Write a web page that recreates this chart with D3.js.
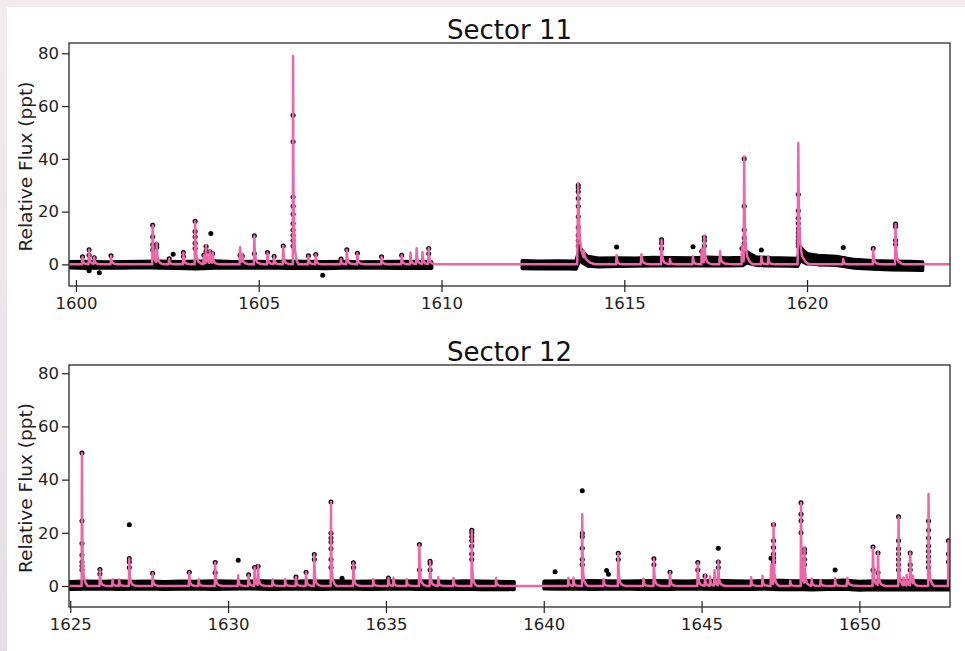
<!DOCTYPE html>
<html>
<head>
<meta charset="utf-8">
<script src="https://cdn.jsdelivr.net/npm/d3@7/dist/d3.min.js"></script>
<style>
  html, body { margin: 0; padding: 0; background: #ffffff; }
  svg { display: block; font-family: "DejaVu Sans", sans-serif; }
</style>
</head>
<body>
<svg id="fig" width="965" height="651"></svg>
<script>
// ---------- data ----------
const sectorTitles = ["Sector 11", "Sector 12"];
const xTicks11 = [1600, 1605, 1610, 1615, 1620];
const xTicks12 = [1625, 1630, 1635, 1640, 1645, 1650];
const yTicks = [0, 20, 40, 60, 80];
const xRange11 = [1599.81, 1623.91];
const xRange12 = [1624.96, 1652.87];
const yRange11 = [-8.2, 83.9];
const yRange12 = [-7.9, 83.1];

// quiescent light-curve envelope per orbit: [time, low, high] (ppt)
const band11 = [
  [[1599.84,-1.3,1.0],[1600.3,-1.5,1.1],[1600.8,-1.3,0.9],[1601.3,-1.4,1.0],[1601.8,-1.2,1.1],[1602.3,-1.4,1.2],[1602.8,-1.5,1.0],[1603.3,-1.7,1.2],[1603.8,-1.4,1.3],[1604.3,-1.3,1.0],[1604.8,-1.4,1.1],[1605.3,-1.3,1.0],[1605.8,-1.5,1.2],[1606.3,-1.4,1.1],[1606.8,-1.6,1.0],[1607.3,-1.4,1.1],[1607.8,-1.3,0.9],[1608.3,-1.4,1.0],[1608.8,-1.5,1.1],[1609.3,-1.4,1.0],[1609.73,-1.5,0.9]],
  [[1612.21,-1.6,1.4],[1612.7,-1.7,1.2],[1613.2,-1.6,1.3],[1613.68,-1.8,1.2],[1613.78,1.5,6.5],[1613.88,0.4,4.5],[1614.0,-0.6,3.0],[1614.3,-0.9,2.3],[1614.8,-0.7,2.4],[1615.3,-0.6,2.3],[1615.8,-0.5,2.6],[1616.3,-0.4,2.5],[1616.8,-0.5,2.4],[1617.3,-0.4,2.7],[1617.8,-0.5,2.4],[1618.25,-0.4,2.6],[1618.35,0.6,4.8],[1618.6,-0.3,2.8],[1619.0,-0.5,2.5],[1619.5,-0.6,2.3],[1619.74,-0.7,2.2],[1619.82,1.5,6.5],[1620.0,0.2,4.0],[1620.3,-0.1,3.4],[1620.8,-0.3,3.0],[1621.3,-1.4,1.8],[1621.8,-1.8,1.4],[1622.3,-2.0,1.2],[1622.8,-2.1,1.1],[1623.16,-2.2,0.9]]
];
const band12 = [
  [[1625.0,-1.2,1.6],[1625.5,-1.1,1.8],[1626.0,-1.0,1.7],[1626.5,-1.2,1.9],[1627.0,-1.1,1.7],[1627.5,-1.0,1.8],[1628.0,-1.2,1.6],[1628.5,-1.1,1.8],[1629.0,-1.0,1.7],[1629.5,-1.2,1.9],[1630.0,-1.1,1.8],[1630.5,-1.0,1.7],[1631.0,-1.1,1.9],[1631.5,-1.2,1.8],[1632.0,-1.0,1.7],[1632.5,-1.1,1.9],[1633.0,-1.2,1.8],[1633.5,-1.0,1.9],[1634.0,-1.1,1.7],[1634.5,-1.2,1.8],[1635.0,-1.1,1.9],[1635.5,-1.0,1.8],[1636.0,-1.2,1.9],[1636.5,-1.1,1.8],[1637.0,-1.2,1.7],[1637.5,-1.1,1.9],[1638.0,-1.3,1.8],[1638.5,-1.2,1.7],[1639.06,-1.3,1.6]],
  [[1640.01,-1.0,1.8],[1640.5,-1.1,1.9],[1641.0,-1.0,1.8],[1641.5,-1.2,2.0],[1642.0,-1.1,1.9],[1642.5,-1.0,1.8],[1643.0,-1.2,1.9],[1643.5,-1.1,2.0],[1644.0,-1.2,1.9],[1644.5,-1.0,1.8],[1645.0,-1.1,2.0],[1645.5,-1.2,2.1],[1646.0,-1.1,1.9],[1646.5,-1.2,1.8],[1647.0,-1.1,2.0],[1647.5,-1.3,2.1],[1648.0,-1.2,1.9],[1648.5,-1.4,2.0],[1649.0,-1.2,1.9],[1649.5,-1.1,2.2],[1650.0,-1.5,1.7],[1650.5,-1.3,1.9],[1651.0,-1.4,1.8],[1651.5,-1.3,2.0],[1652.0,-1.4,1.9],[1652.5,-1.3,1.8],[1652.87,-1.4,1.8]]
];

// flares: [peak time, model amplitude (ppt), decay time (d), observed points on the flare (ppt)]
const flares11 = [
  [1600.18, 2.9, 0.02, [2.9]],
  [1600.36, 5.5, 0.02, [5.5, 3.5]],
  [1600.50, 2.5, 0.02, [2.5]],
  [1600.96, 3.3, 0.02, [3.3]],
  [1602.10, 14.8, 0.02, [14.8, 10.5, 7.5, 5.5]],
  [1602.21, 7.5, 0.02, [7.5, 6.5]],
  [1602.55, 2.1, 0.02, [2.1]],
  [1602.94, 4.5, 0.02, [4.5, 3.0]],
  [1603.26, 16.3, 0.02, [16.3, 12.5, 10.5, 8.0, 6.0]],
  [1603.50, 3.5, 0.02, [3.5]],
  [1603.56, 6.8, 0.02, [6.8, 5.0]],
  [1603.66, 4.8, 0.02, [4.8]],
  [1603.74, 4.0, 0.02, [4.0]],
  [1604.49, 6.5, 0.02, [3.5]],
  [1604.55, 3.2, 0.02, [3.2]],
  [1604.88, 10.8, 0.02, [10.8, 4.0]],
  [1605.24, 4.5, 0.02, [4.5]],
  [1605.42, 3.0, 0.02, [3.0]],
  [1605.67, 7.0, 0.02, [7.0]],
  [1605.94, 79.0, 0.012, [56.5, 46.5, 25.5, 22.0, 19.0, 15.5, 13.0, 11.0, 9.0, 7.0]],
  [1606.36, 3.3, 0.02, [3.3]],
  [1606.56, 3.7, 0.02, [3.7]],
  [1607.25, 2.0, 0.02, [2.0]],
  [1607.41, 5.5, 0.02, [5.5]],
  [1607.70, 4.2, 0.02, [4.2]],
  [1608.36, 2.9, 0.02, [2.9]],
  [1608.91, 3.5, 0.02, [3.5]],
  [1609.15, 4.5, 0.02, []],
  [1609.32, 6.0, 0.02, []],
  [1609.48, 4.5, 0.02, []],
  [1609.65, 6.0, 0.02, [6.0, 4.0]],
  [1613.74, 30.8, 0.04, [30.0, 29.0, 27.5, 25.0, 22.0, 18.0, 14.0, 11.0, 9.0, 7.0]],
  [1613.90, 3.0, 0.02, []],
  [1614.79, 3.5, 0.02, []],
  [1615.47, 3.8, 0.03, []],
  [1616.02, 9.3, 0.02, [9.3, 8.0, 6.0]],
  [1616.25, 2.0, 0.02, []],
  [1616.88, 3.0, 0.02, []],
  [1617.12, 6.0, 0.02, [5.0]],
  [1617.19, 10.3, 0.02, [10.3, 9.0, 7.0]],
  [1617.62, 5.0, 0.03, []],
  [1618.22, 7.0, 0.02, [6.0]],
  [1618.28, 40.0, 0.02, [40.0, 22.0, 13.0, 10.0, 8.0]],
  [1618.75, 3.0, 0.02, []],
  [1618.94, 3.0, 0.02, []],
  [1619.76, 46.0, 0.025, [26.5, 20.3, 17.5, 15.5, 13.5, 12.0, 10.5, 9.0, 8.0, 7.0]],
  [1620.99, 2.0, 0.02, []],
  [1621.81, 6.0, 0.02, [6.0]],
  [1622.42, 15.3, 0.02, [15.3, 14.3, 9.0, 7.5]]
];
const flares12 = [
  [1625.37, 50.0, 0.015, [50.0, 24.4, 16.0, 11.7, 9.0, 7.5, 6.0]],
  [1625.94, 6.2, 0.02, [6.2, 4.5]],
  [1626.34, 2.5, 0.02, []],
  [1626.55, 2.5, 0.02, []],
  [1626.87, 10.3, 0.02, [10.3, 9.0, 7.0]],
  [1627.61, 4.8, 0.02, [4.8]],
  [1628.77, 5.2, 0.02, [5.2]],
  [1629.07, 2.5, 0.02, []],
  [1629.59, 8.8, 0.02, [8.8, 5.0]],
  [1630.32, 4.0, 0.02, []],
  [1630.65, 4.2, 0.02, [4.2]],
  [1630.84, 7.0, 0.02, [7.0]],
  [1630.95, 7.4, 0.02, [7.4]],
  [1631.41, 2.5, 0.02, []],
  [1631.81, 2.5, 0.02, []],
  [1632.15, 3.4, 0.02, [3.4]],
  [1632.47, 5.2, 0.02, [5.2]],
  [1632.73, 11.8, 0.02, [11.8, 10.0]],
  [1633.26, 31.6, 0.015, [31.6, 19.8, 18.0, 16.5, 14.0, 10.0, 7.0]],
  [1633.97, 8.7, 0.02, [8.7, 7.0]],
  [1634.60, 2.5, 0.02, []],
  [1635.08, 3.0, 0.02, [3.0]],
  [1635.24, 3.0, 0.02, []],
  [1635.66, 2.5, 0.02, []],
  [1636.06, 15.6, 0.02, [15.6, 6.0]],
  [1636.40, 9.3, 0.02, [9.3, 8.5, 6.0]],
  [1636.66, 3.3, 0.02, []],
  [1637.14, 3.0, 0.02, []],
  [1637.72, 21.0, 0.015, [21.0, 20.0, 18.5, 17.0, 15.0, 12.0, 10.0]],
  [1638.49, 3.0, 0.02, []],
  [1640.78, 3.0, 0.02, []],
  [1640.94, 3.0, 0.02, []],
  [1641.22, 27.0, 0.015, [19.8, 18.5, 14.2, 10.0, 8.0]],
  [1641.90, 2.5, 0.02, []],
  [1642.36, 12.3, 0.02, [12.3, 10.0]],
  [1643.16, 2.8, 0.02, []],
  [1643.49, 10.2, 0.02, [10.2, 8.0]],
  [1644.00, 5.2, 0.02, [5.2]],
  [1644.88, 8.8, 0.02, [8.8, 6.0]],
  [1645.11, 4.0, 0.02, []],
  [1645.27, 3.5, 0.02, []],
  [1645.41, 5.8, 0.02, []],
  [1645.53, 9.0, 0.02, [9.0, 7.0]],
  [1646.57, 3.3, 0.02, []],
  [1646.93, 3.8, 0.02, []],
  [1647.20, 8.0, 0.02, []],
  [1647.28, 23.0, 0.015, [23.0, 17.0, 14.5, 12.0, 10.5, 9.0]],
  [1647.81, 2.0, 0.02, []],
  [1648.15, 31.3, 0.015, [31.3, 27.0, 24.5, 20.0]],
  [1648.26, 13.8, 0.02, [13.8, 12.5, 10.0, 8.0]],
  [1648.49, 2.8, 0.02, []],
  [1648.77, 2.2, 0.02, []],
  [1649.23, 3.0, 0.02, []],
  [1649.62, 3.0, 0.04, []],
  [1650.43, 14.7, 0.02, [14.7, 6.0]],
  [1650.59, 12.4, 0.02, [12.4, 5.0]],
  [1651.24, 26.0, 0.015, [26.0, 17.0, 14.0, 12.0, 10.0, 8.0, 6.0]],
  [1651.40, 3.0, 0.02, []],
  [1651.50, 4.0, 0.02, []],
  [1651.61, 12.4, 0.02, [12.4, 8.0, 6.0]],
  [1651.70, 3.0, 0.02, []],
  [1652.19, 34.6, 0.015, [24.4, 21.0, 18.0, 15.0, 13.0, 11.0, 9.0, 7.0]],
  [1652.82, 17.0, 0.02, [17.0, 12.0, 9.0]]
];

// isolated points standing off the quiescent level: [time, flux]
const outliers11 = [[1600.36,-2.4],[1600.64,-3.2],[1602.66,3.8],[1603.69,11.7],[1606.75,-4.1],[1614.79,6.6],[1616.88,6.7],[1618.75,5.4],[1620.99,6.4]];
const outliers12 = [[1626.87,23.0],[1630.32,9.7],[1633.61,2.9],[1640.36,5.4],[1641.22,35.8],[1641.99,5.8],[1642.05,4.4],[1645.11,3.8],[1645.53,14.2],[1647.20,10.4],[1649.23,6.0]];

// flare model profile, vertices in units of the decay time: [offset, fraction of peak]
const flareShape = [[-0.7,0],[0,1],[0.4,0.6],[1,0.35],[2,0.18],[4,0.07],[8,0.02],[12,0]];

// ---------- layout ----------
const W = 965, H = 651;
const plotLeft = 69, plotRight = 950;
const panels = [
  { title: sectorTitles[0], top: 43, bottom: 286, xd: xRange11, yd: yRange11, xt: xTicks11, band: band11, flares: flares11, out: outliers11 },
  { title: sectorTitles[1], top: 365, bottom: 607, xd: xRange12, yd: yRange12, xt: xTicks12, band: band12, flares: flares12, out: outliers12 }
];
const PINK = "#ee66aa";
const INK = "#1e1e1e";

const svg = d3.select("#fig");

// page backdrop with a soft edge on the top and left
const defs = svg.append("defs");
const grad = defs.append("linearGradient").attr("id", "edge").attr("x1", 0).attr("y1", 0).attr("x2", 0).attr("y2", 1);
grad.append("stop").attr("offset", "0%").attr("stop-color", "#f3ebed");
grad.append("stop").attr("offset", "100%").attr("stop-color", "#e3e0e5");
svg.append("rect").attr("width", W).attr("height", H).attr("fill", "url(#edge)");
svg.append("rect").attr("x", 0).attr("y", 0).attr("width", W).attr("height", 7).attr("fill", "#f2eaec");
svg.append("rect").attr("x", 7).attr("y", 7).attr("width", W - 7).attr("height", H - 7).attr("fill", "#ffffff");

function flareValue(f, t) {
  const u = (t - f[0]) / f[2];
  const first = flareShape[0][0], last = flareShape[flareShape.length - 1][0];
  if (u <= first || u >= last) return 0;
  for (let i = 1; i < flareShape.length; i++) {
    const a = flareShape[i - 1], b = flareShape[i];
    if (u <= b[0]) {
      const w = (u - a[0]) / (b[0] - a[0]);
      return f[1] * (a[1] + w * (b[1] - a[1]));
    }
  }
  return 0;
}

function modelCurve(flares, domain) {
  let ts = [domain[0], domain[1]];
  flares.forEach(f => flareShape.forEach(p => ts.push(f[0] + p[0] * f[2])));
  ts = ts.filter(t => t >= domain[0] && t <= domain[1]).sort(d3.ascending);
  return ts.map(t => [t, d3.sum(flares, f => flareValue(f, t))]);
}

panels.forEach((p, i) => {
  const x = d3.scaleLinear().domain(p.xd).range([plotLeft, plotRight]);
  const y = d3.scaleLinear().domain(p.yd).range([p.bottom, p.top]);
  const g = svg.append("g");

  defs.append("clipPath").attr("id", "clip" + i)
    .append("rect").attr("x", plotLeft).attr("y", p.top)
    .attr("width", plotRight - plotLeft).attr("height", p.bottom - p.top);
  const plot = g.append("g").attr("clip-path", `url(#clip${i})`);

  // quiescent data band
  const area = d3.area().x(d => x(d[0])).y0(d => y(d[1])).y1(d => y(d[2]));
  plot.selectAll("path.band").data(p.band).join("path")
    .attr("class", "band")
    .attr("d", area)
    .attr("fill", "#000")
    .attr("stroke", "#000")
    .attr("stroke-width", 3.5)
    .attr("stroke-linejoin", "round");

  // points on flares and isolated points
  const pts = [];
  p.flares.forEach(f => f[3].forEach(v => pts.push([f[0], v])));
  p.out.forEach(d => pts.push(d));
  plot.selectAll("circle").data(pts).join("circle")
    .attr("cx", d => x(d[0]))
    .attr("cy", d => y(d[1]))
    .attr("r", 2.5)
    .attr("fill", "#000");

  // flare model
  const line = d3.line().x(d => x(d[0])).y(d => y(d[1]));
  plot.append("path")
    .attr("d", line(modelCurve(p.flares, p.xd)))
    .attr("fill", "none")
    .attr("stroke", PINK)
    .attr("stroke-width", 2.5)
    .attr("stroke-linejoin", "round");

  // axes
  const xAxis = g.append("g").attr("transform", `translate(0,${p.bottom})`)
    .call(d3.axisBottom(x).tickValues(p.xt).tickFormat(d3.format("d")).tickSize(6).tickPadding(5));
  xAxis.selectAll(".tick line").attr("y1", -6).attr("y2", 6).attr("stroke", INK).attr("stroke-width", 1.2);
  const yAxis = g.append("g").attr("transform", `translate(${plotLeft},0)`)
    .call(d3.axisLeft(y).tickValues(yTicks).tickFormat(d3.format("d")).tickSize(7).tickPadding(3));
  yAxis.selectAll(".tick line").attr("stroke", INK).attr("stroke-width", 1.2);
  [xAxis, yAxis].forEach(a => {
    a.select(".domain").remove();
    a.selectAll("text").attr("font-size", 16.5).attr("fill", INK).attr("font-family", "DejaVu Sans");
  });

  // frame
  g.append("rect")
    .attr("x", plotLeft).attr("y", p.top)
    .attr("width", plotRight - plotLeft).attr("height", p.bottom - p.top)
    .attr("fill", "none").attr("stroke", "#2a2a2a").attr("stroke-width", 1.3);

  // title and y label
  g.append("text")
    .attr("x", (plotLeft + plotRight) / 2).attr("y", p.top - 4.5)
    .attr("text-anchor", "middle").attr("font-size", 26).attr("fill", "#111")
    .text(p.title);
  g.append("text")
    .attr("transform", `translate(32,${(p.top + p.bottom) / 2 + 2}) rotate(-90)`)
    .attr("text-anchor", "middle")
    .attr("font-size", 18.5).attr("fill", INK)
    .text("Relative Flux (ppt)");
});
</script>
</body>
</html>
